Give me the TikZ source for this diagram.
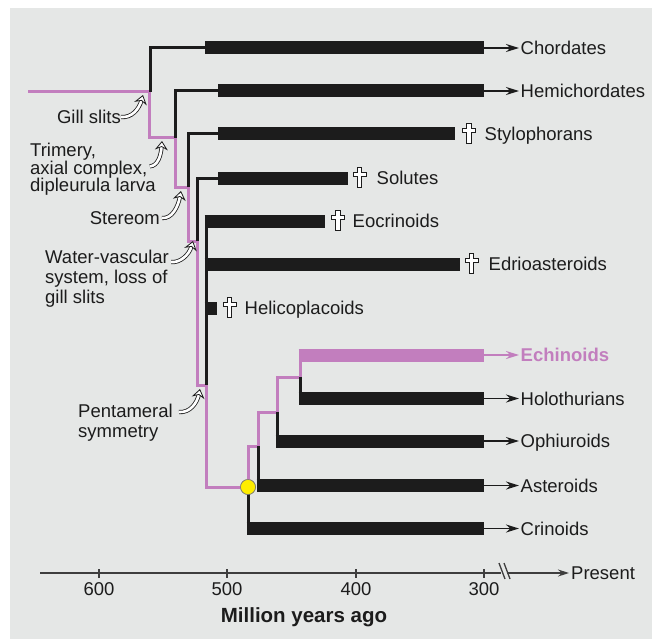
\documentclass[tikz,border=0pt]{standalone}
\usepackage{fontspec}
\setmainfont{Liberation Sans}
\usepackage{tikz}
\usetikzlibrary{arrows.meta, positioning}
\definecolor{panelgray}{RGB}{229,231,230}
\definecolor{echpink}{RGB}{194,126,190}
\definecolor{inkblack}{RGB}{28,28,28}
\definecolor{dotyellow}{RGB}{255,238,0}

\begin{document}
\begin{tikzpicture}[
    x=1pt, y=-1pt,
    taxon/.style={
        anchor=west, inner xsep=1.5pt, inner ysep=0pt,
        text height=13pt, text depth=0pt,
        font=\fontsize{18.5}{20}\selectfont, text=inkblack
    },
    note/.style={
        align=left, inner sep=0pt,
        font=\fontsize{18.5}{20}\selectfont, text=inkblack
    },
    axisnum/.style={
        inner sep=0pt, text height=13pt, text depth=0pt,
        font=\fontsize{18.5}{20}\selectfont, text=inkblack
    },
    bar/.style={draw=inkblack, line width=13pt},
    stem/.style={draw=inkblack, line width=3pt},
    lineage/.style={draw=echpink, line width=3pt},
    alive/.style={-{Stealth[length=13pt, width=8pt]}, color=inkblack, line width=1.8pt},
    swoosh/.style={
        -{Stealth[open, fill=white, length=9pt, width=13pt, inset=3pt]},
        draw=inkblack, line width=0.8pt, double=white, double distance=2.6pt
    },
    axisline/.style={draw=inkblack!85, line width=1.3pt},
    crowndot/.style={circle, fill=dotyellow, draw=inkblack!60, line width=0.6pt, minimum size=15pt, inner sep=0pt},
    dagger/.pic={
        \draw[fill=white, draw=inkblack, line width=0.7pt]
            (-2.3,-11) -- (2.3,-11) -- (2.3,-6) -- (6.5,-6) -- (6.5,-1.5) -- (2.3,-1.5)
            -- (2.3,9) -- (-2.3,9) -- (-2.3,-1.5) -- (-6.5,-1.5) -- (-6.5,-6) -- (-2.3,-6) -- cycle;
    },
]

% Hintergrund
\fill[white] (0,0) rectangle (652,639);
\fill[panelgray] (10,8) rectangle (652,639);
\useasboundingbox (0,0) rectangle (652,639);

% Taxa, von oben nach unten
\node[taxon] (chord) at (519,48) {Chordates};
\node[taxon] (hemi) at (519,91) {Hemichordates};
\node[taxon] (stylo) at (483,134) {Stylophorans};
\node[taxon] (solut) at (375,178) {Solutes};
\node[taxon] (eocri) at (351,221) {Eocrinoids};
\node[taxon] (edrio) at (487,264) {Edrioasteroids};
\node[taxon] (helic) at (243,308) {Helicoplacoids};
\node[taxon, font=\fontsize{18.5}{20}\selectfont\bfseries, text=echpink] (echin) at (519,355) {Echinoids};
\node[taxon] (holot) at (519,398.5) {Holothurians};
\node[taxon] (ophiu) at (519,441) {Ophiuroids};
\node[taxon] (aster) at (519,485.5) {Asteroids};
\node[taxon] (crino) at (519,528.5) {Crinoids};

% Merkmale links
\node[note, anchor=east, text height=13pt, text depth=0pt] (gill) at (121,117) {Gill slits};
\node[note, anchor=north west, font=\fontsize{18.5}{17.5}\selectfont] (trim) at (30,143) {Trimery,\\axial complex,\\dipleurula larva};
\node[note, anchor=east, text height=13pt, text depth=0pt] (stere) at (160,218) {Stereom};
\node[note, anchor=north west] (water) at (45,250) {Water-vascular\\system, loss of\\gill slits};
\node[note, anchor=north west] (penta) at (78,404) {Pentameral\\symmetry};

% Linie zu den Echinoiden
\node[crowndot] (crown) at (248,487) {};
\draw[lineage] (28,92) -- (149,92) -- (149,138) -- (175,138) -- (175,187) -- (188,187)
    -- (188,241) -- (197,241) -- (197,385) -- (206,385) -- (206,487) -- (crown.center)
    -- (248,446) -- (258,446) -- (258,412) -- (277,412) -- (277,377) -- (300,377) -- (300,355);

% Stämme und Balken
\draw[stem] (150,92) -- (150,48) -- (205,48);
\draw[bar] (205,48) -- (484,48);
\draw[stem] (175,138) -- (175,91) -- (218,91);
\draw[bar] (218,91) -- (484,91);
\draw[stem] (188,187) -- (188,134) -- (218,134);
\draw[bar] (218,134) -- (455,134);
\draw[stem] (197,241) -- (197,178) -- (218,178);
\draw[bar] (218,178) -- (348,178);
\draw[stem] (206,385) -- (206,221);
\draw[bar] (204.5,221) -- (325,221);
\draw[bar] (204.5,264) -- (460,264);
\draw[bar] (204.5,308) -- (217,308);
\draw[stem] (crown.center) -- (248,528.5);
\draw[bar] (246.5,528.5) -- (484,528.5);
\draw[stem] (258,446) -- (258,485.5);
\draw[bar] (256.5,485.5) -- (484,485.5);
\draw[stem] (277,412) -- (277,441);
\draw[bar] (275.5,441) -- (484,441);
\draw[stem] (300,377) -- (300,398.5);
\draw[bar] (298.5,398.5) -- (484,398.5);
\draw[bar, draw=echpink] (298.5,355) -- (484,355);
\node[crowndot] at (crown) {};

% Ausgestorben
\pic at (469,134) {dagger};
\pic at (359.5,178) {dagger};
\pic at (338,221) {dagger};
\pic at (471.5,264) {dagger};
\pic at (229.5,308) {dagger};

% Rezent
\draw[alive] (484,48) -- (chord.west);
\draw[alive] (484,91) -- (hemi.west);
\draw[alive, color=echpink] (484,355) -- (echin.west);
\draw[alive] (484,398.5) -- (holot.west);
\draw[alive] (484,441) -- (ophiu.west);
\draw[alive] (484,485.5) -- (aster.west);
\draw[alive] (484,528.5) -- (crino.west);

% Pfeile der Merkmale
\coordinate (gillpt) at (143,95);
\coordinate (trimpt) at (162,141);
\coordinate (sterept) at (181,191);
\coordinate (waterpt) at (193,241);
\coordinate (pentapt) at (200,389);
\draw[swoosh] (gill.east) .. controls (132,118) and (139,109) .. (gillpt);
\draw[swoosh] ([xshift=-6pt, yshift=3pt]trim.east) .. controls (158,166) and (161,155) .. (trimpt);
\draw[swoosh] ([xshift=2pt]stere.east) .. controls (172,219) and (178,207) .. (sterept);
\draw[swoosh] ([xshift=2pt, yshift=-12pt]water.north east) .. controls (180,263) and (189,255) .. (waterpt);
\draw[swoosh] ([xshift=6pt, yshift=-8pt]penta.north east) .. controls (190,413) and (197,403) .. (pentapt);

% Zeitachse
\draw[axisline] (40,573) -- (501,573);
\draw[axisline, -{Stealth[length=11pt, width=7pt]}] (507,573) -- (569,573);
\draw[axisline] (499,563) -- (505,579) (504,563) -- (510,579);
\draw[axisline] (99,569) -- (99,578) (227,569) -- (227,578) (356,569) -- (356,578) (484,569) -- (484,578);
\node[axisnum] (t600) at (99,588.5) {600};
\node[axisnum] (t500) at (227,588.5) {500};
\node[axisnum] (t400) at (356,588.5) {400};
\node[axisnum] (t300) at (484,588.5) {300};
\node[taxon, inner xsep=0pt] (pres) at (571,573) {Present};
\node[axisnum, font=\fontsize{20.5}{22}\selectfont\bfseries, text height=14.5pt] (xlabel) at (304,615.5) {Million years ago};

\end{tikzpicture}
\end{document}
